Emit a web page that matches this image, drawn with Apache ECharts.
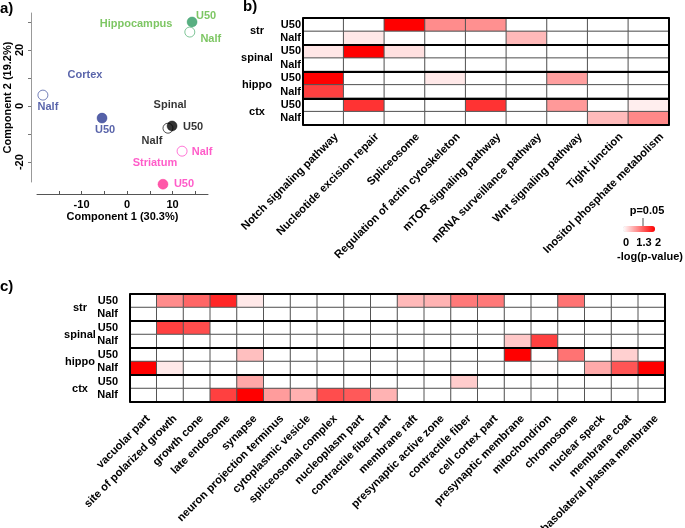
<!DOCTYPE html>
<html><head><meta charset="utf-8">
<script src="https://cdn.jsdelivr.net/npm/echarts@6/dist/echarts.min.js"></script>
<style>html,body{margin:0;padding:0;background:#fff}#c{width:685px;height:528px}</style>
</head><body><div id="c"></div>
<script>
// ---------- Panel a: PCA ----------
const pcaRegions = ['Hippocampus', 'Cortex', 'Spinal', 'Striatum'];
const pcaU50 = [[14.3, 30.0], [-5.5, -4.3], [9.9, -7.1], [7.9, -27.9]];
const pcaNalf = [[13.8, 26.4], [-18.5, 3.9], [9.0, -7.9], [12.1, -16.1]];
const pcaXTicks = [-15, -10, -5, 0, 5, 10, 15];
const pcaXLabels = [-10, 0, 10];
const pcaYTicks = [-20, -10, 0, 10, 20, 30];
const pcaYLabels = [-20, 0, 20];

// ---------- Panels b / c: heatmaps ----------
const groups = ['str', 'spinal', 'hippo', 'ctx'];
const rowLabels = ['U50', 'Nalf', 'U50', 'Nalf', 'U50', 'Nalf', 'U50', 'Nalf'];
const keggTerms = ['Notch signaling pathway', 'Nucleotide excision repair', 'Spliceosome',
  'Regulation of actin cytoskeleton', 'mTOR signaling pathway', 'mRNA surveillance pathway',
  'Wnt signaling pathway', 'Tight junction', 'Inositol phosphate metabolism'];
const keggValues = [
  [0, 0, 2, 0.9, 0.87, 0, 0, 0, 0],
  [0, 0.18, 0, 0, 0, 0.55, 0, 0, 0],
  [0.2, 2, 0.24, 0, 0, 0, 0, 0, 0],
  [0, 0, 0, 0, 0, 0, 0, 0, 0],
  [2, 0, 0, 0.18, 0, 0, 0.75, 0, 0],
  [1.5, 0, 0, 0, 0, 0, 0, 0, 0],
  [0, 1.6, 0, 0, 1.6, 0, 0.8, 0, 0.13],
  [0, 0, 0, 0, 0, 0, 0, 0.53, 0.93]
];
const goTerms = ['vacuolar part', 'site of polarized growth', 'growth cone', 'late endosome', 'synapse',
  'neuron projection terminus', 'cytoplasmic vesicle', 'spliceosomal complex', 'nucleoplasm part',
  'contractile fiber part', 'membrane raft', 'presynaptic active zone', 'contractile fiber',
  'cell cortex part', 'presynaptic membrane', 'mitochondrion', 'chromosome', 'nuclear speck',
  'membrane coat', 'basolateral plasma membrane'];
const goValues = [
  [0, 0.9, 1.2, 1.7, 0.18, 0, 0, 0, 0, 0, 0.55, 0.6, 1.05, 1.05, 0, 0, 1.1, 0, 0, 0],
  [0, 0, 0, 0, 0, 0, 0, 0, 0, 0, 0, 0, 0, 0, 0, 0, 0, 0, 0, 0],
  [0, 1.5, 1.4, 0, 0, 0, 0, 0, 0, 0, 0, 0, 0, 0, 0, 0, 0, 0, 0, 0],
  [0, 0, 0, 0, 0, 0, 0, 0, 0, 0, 0, 0, 0, 0, 0.43, 1.5, 0, 0, 0, 0],
  [0, 0, 0, 0, 0.5, 0, 0, 0, 0, 0, 0, 0, 0, 0, 2, 0, 1.1, 0, 0.37, 0],
  [2, 0.17, 0, 0, 0, 0, 0, 0, 0, 0, 0, 0, 0, 0, 0, 0.02, 0, 0.67, 1.33, 2],
  [0, 0, 0, 0, 0.68, 0, 0, 0, 0, 0, 0, 0, 0.4, 0, 0, 0, 0, 0, 0, 0],
  [0, 0, 0, 1.5, 2, 0.78, 0.62, 1.4, 1.3, 0.6, 0, 0, 0, 0, 0, 0, 0, 0, 0, 0]
];
const legendTicks = ['0', '1.3', '2'];
const legendRange = [0, 2];

// ---------- styles ----------
const FONT = '"Liberation Sans", Arial, sans-serif';
const fillColors = ['#2e9b62', '#2b3a92', '#000000', '#ff2d93'];
const openBorders = ['#5fb67e', '#5261a8', '#222222', '#ff55cc'];
const textColors = ['#5cb83c', '#2f3d95', '#000000', '#ff33bb'];
const u50Off = [[14, -6], [3, 12], [21, 1], [21, 0]];
const nalfOff = [[21, 7], [5, 12], [-16, 13], [20, 1]];
const titleOff = [[-56, 2], [-17, -43], [-2, -21], [-8, -21]];

function toCells(m) {
  const out = [];
  m.forEach((row, r) => row.forEach((v, c) => out.push([c, r, v])));
  return out;
}
const lblBase = { fontFamily: FONT, fontWeight: 'bold', fontSize: 11 };

function heatAxes(gi, terms, o) {
  const x = {
    type: 'category', gridIndex: gi, data: terms, position: 'bottom',
    axisLine: { show: false }, axisTick: { show: false }, splitLine: { show: false },
    axisLabel: { interval: 0, rotate: 45, fontSize: o.xfs, fontWeight: 'bold', fontFamily: FONT,
      color: '#000', margin: o.xMargin, lineHeight: o.xLine, formatter: v => '\n' + v }
  };
  const ys = [
    { type: 'category', gridIndex: gi, data: rowLabels, inverse: true, position: 'left', z: 10,
      axisLine: { show: true, onZero: false, lineStyle: { color: '#000', width: 2 } }, axisTick: { show: false },
      axisLabel: Object.assign({ interval: 0, margin: o.rowMargin, color: '#000' }, lblBase) },
    { type: 'category', gridIndex: gi, data: groups, inverse: true, position: 'left', z: 10,
      axisLine: { show: false }, axisTick: { show: false },
      splitLine: { show: true, interval: 0, lineStyle: { color: '#000', width: 2 } },
      axisLabel: Object.assign({ interval: 0, margin: o.grpMargin, align: 'center', color: '#000' }, lblBase) },
    { type: 'category', gridIndex: gi, data: rowLabels, inverse: true, position: 'right', z: 10,
      axisLine: { show: true, onZero: false, lineStyle: { color: '#000', width: 2 } }, axisTick: { show: false },
      axisLabel: { show: false } }
  ];
  return { x, ys };
}
const hb = heatAxes(1, keggTerms, { xfs: 11.2, xMargin: -3, xLine: 37, rowMargin: 2, grpMargin: 46 });
const hc = heatAxes(2, goTerms, { xfs: 11.2, xMargin: 10, xLine: 14, rowMargin: 12, grpMargin: 50 });

const option = {
  animation: false,
  textStyle: { fontFamily: FONT },
  grid: [
    { left: 37, top: 13, width: 171, height: 169, outerBoundsMode: 'none', containLabel: false },
    { left: 303, top: 18, width: 366, height: 107, outerBoundsMode: 'none', containLabel: false },
    { left: 130, top: 294, width: 535, height: 108, outerBoundsMode: 'none', containLabel: false }
  ],
  xAxis: [
    { type: 'value', gridIndex: 0, min: -19.8, max: 17.8, offset: 12,
      name: 'Component 1 (30.3%)', nameLocation: 'middle', nameGap: 17,
      nameTextStyle: { fontWeight: 'bold', fontSize: 11, color: '#000', fontFamily: FONT },
      axisLine: { show: true, onZero: false, lineStyle: { color: '#555', width: 1 } },
      axisTick: { show: true, inside: true, length: 3, customValues: pcaXTicks, lineStyle: { color: '#555' } },
      axisLabel: { customValues: pcaXLabels, fontSize: 11, fontWeight: 'bold', color: '#000', margin: 5, fontFamily: FONT },
      splitLine: { show: false } },
    hb.x, hc.x
  ],
  yAxis: [
    { type: 'value', gridIndex: 0, min: -27.1, max: 33.2, offset: 6,
      name: 'Component 2 (19.2%)', nameLocation: 'middle', nameGap: 18,
      nameTextStyle: { fontWeight: 'bold', fontSize: 11, color: '#000', fontFamily: FONT },
      axisLine: { show: true, onZero: false, lineStyle: { color: '#999', width: 1 } },
      axisTick: { show: true, length: 3, customValues: pcaYTicks, lineStyle: { color: '#777' } },
      axisLabel: { customValues: pcaYLabels, rotate: 90, fontSize: 11, fontWeight: 'bold', color: '#000', margin: 6, fontFamily: FONT },
      splitLine: { show: false } },
    ...hb.ys, ...hc.ys
  ],
  visualMap: {
    type: 'continuous', min: legendRange[0], max: legendRange[1], seriesIndex: [3, 4],
    inRange: { color: ['#ffffff', '#ff0000'] }, orient: 'horizontal', padding: 0,
    left: 623, top: 226, itemWidth: 6, itemHeight: 32, calculable: false,
    text: null, showLabel: false, hoverLink: false
  },
  series: [
    { type: 'scatter', xAxisIndex: 0, yAxisIndex: 0, symbolSize: 10, clip: false, silent: true,
      data: pcaNalf.map((v, i) => ({ value: v,
        itemStyle: { color: '#fff', borderColor: openBorders[i], borderWidth: 1 },
        label: Object.assign({ show: true, position: 'inside', formatter: 'Nalf', color: textColors[i], offset: nalfOff[i] }, lblBase) })) },
    { type: 'scatter', xAxisIndex: 0, yAxisIndex: 0, symbolSize: 10, clip: false, silent: true,
      data: pcaU50.map((v, i) => ({ value: v,
        itemStyle: { color: fillColors[i], borderColor: fillColors[i], borderWidth: 0.5 },
        label: Object.assign({ show: true, position: 'inside', formatter: 'U50', color: textColors[i], offset: u50Off[i] }, lblBase) })) },
    { type: 'scatter', xAxisIndex: 0, yAxisIndex: 0, symbolSize: 0, clip: false, silent: true,
      data: pcaU50.map((v, i) => ({ value: v,
        label: Object.assign({ show: true, position: 'inside', formatter: pcaRegions[i], color: textColors[i], offset: titleOff[i] }, lblBase) })) },
    { type: 'heatmap', xAxisIndex: 1, yAxisIndex: 1, data: toCells(keggValues), silent: true,
      itemStyle: { borderColor: '#555', borderWidth: 1 }, emphasis: { disabled: true } },
    { type: 'heatmap', xAxisIndex: 2, yAxisIndex: 4, data: toCells(goValues), silent: true,
      itemStyle: { borderColor: '#555', borderWidth: 1 }, emphasis: { disabled: true } }
  ],
  graphic: [
    { type: 'text', left: 0, top: 1, style: { text: 'a)', font: 'bold 15px ' + FONT, fill: '#000' } },
    { type: 'text', left: 243, top: -1, style: { text: 'b)', font: 'bold 15px ' + FONT, fill: '#000' } },
    { type: 'text', left: 0, top: 279, style: { text: 'c)', font: 'bold 15px ' + FONT, fill: '#000' } },
    { type: 'text', x: 647, y: 211, style: { text: 'p=0.05', font: 'bold 11px ' + FONT, fill: '#000', align: 'center', verticalAlign: 'middle' } },
    { type: 'line', shape: { x1: 643, y1: 218, x2: 643, y2: 230 }, style: { stroke: '#555', lineWidth: 1 } },
    { type: 'text', x: 626, y: 243, style: { text: legendTicks[0], font: 'bold 11px ' + FONT, fill: '#000', align: 'center', verticalAlign: 'middle' } },
    { type: 'text', x: 644, y: 243, style: { text: legendTicks[1], font: 'bold 11px ' + FONT, fill: '#000', align: 'center', verticalAlign: 'middle' } },
    { type: 'text', x: 658, y: 243, style: { text: legendTicks[2], font: 'bold 11px ' + FONT, fill: '#000', align: 'center', verticalAlign: 'middle' } },
    { type: 'text', x: 650, y: 257, style: { text: '-log(p-value)', font: 'bold 11px ' + FONT, fill: '#000', align: 'center', verticalAlign: 'middle' } }
  ]
};
const chart = echarts.init(document.getElementById('c'), null, { renderer: 'canvas' });
chart.setOption(option);
</script></body></html>
